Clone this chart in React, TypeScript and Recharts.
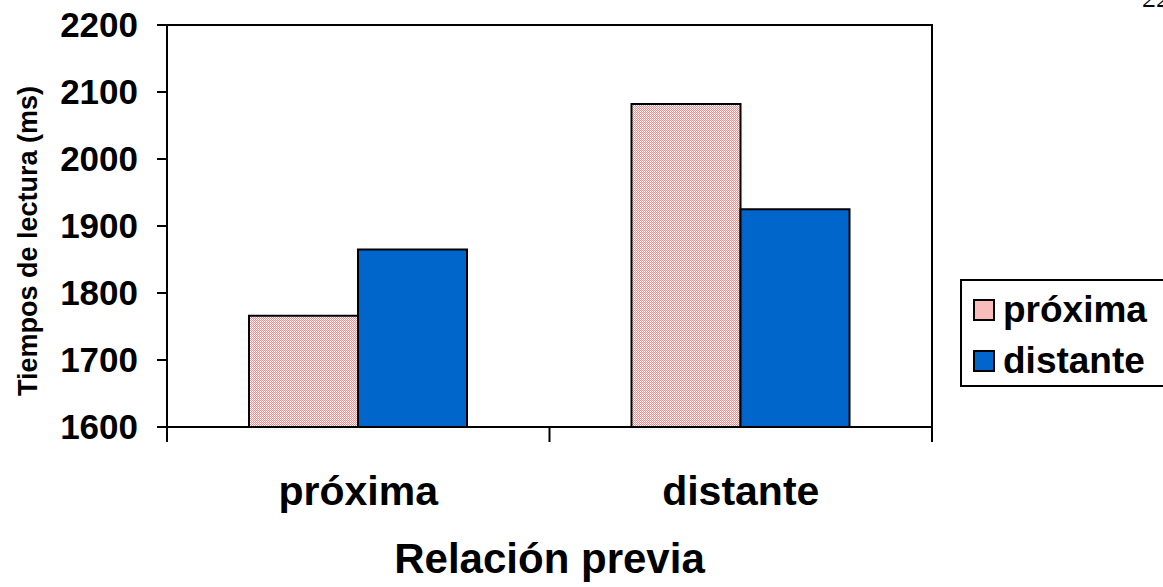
import React from "react"
import { BarChart, Bar, XAxis, YAxis, Legend, ReferenceArea } from "recharts"

const categories = ["próxima", "distante"]
const proximaValues = [1766, 2082]
const distanteValues = [1865, 1925]
const yTicks = [1600, 1700, 1800, 1900, 2000, 2100, 2200]
const seriesOrder = ["proxima", "distante"]

// each category sits in the middle of its own unit on a numeric x axis,
// so integer ticks mark the category boundaries like the original
const data = categories.map((cat, i) => ({
  pos: i + 0.5,
  cat,
  proxima: proximaValues[i],
  distante: distanteValues[i],
}))
const xTicks = [0, ...categories.flatMap((_, i) => [i + 0.5, i + 1])]

const FONT = "'Liberation Sans', Arial, Helvetica, sans-serif"
const BLUE = "#0066cc"
const PINK = "#f58c8c"
const PINK_SWATCH = "#f8bcbc"

function XTick({ x, y, payload }: any) {
  const v = payload.value
  // y already includes the default tick size + margin (8px) below the axis line
  if (Number.isInteger(v)) {
    return <line x1={x} y1={y - 8} x2={x} y2={y + 7} stroke="#000" strokeWidth={2} />
  }
  return (
    <text x={x} y={y + 70} textAnchor="middle" fontSize={41} fontWeight="bold" fontFamily={FONT} fill="#000">
      {categories[Math.floor(v)]}
    </text>
  )
}

function LegendBox({ payload }: any) {
  const items = [...(payload || [])].sort(
    (a: any, b: any) => seriesOrder.indexOf(a.dataKey) - seriesOrder.indexOf(b.dataKey),
  )
  return (
    <div
      style={{
        width: 215,
        height: 108,
        border: "2px solid #000",
        boxSizing: "border-box",
        background: "#fff",
        fontFamily: FONT,
        paddingTop: 3,
      }}
    >
      {items.map((p: any) => (
        <div key={p.dataKey} style={{ display: "flex", alignItems: "center", height: 51 }}>
          <div
            style={{
              flex: "none",
              width: 18,
              height: 18,
              marginLeft: 11,
              marginRight: 8,
              border: "2px solid #000",
              background: p.dataKey === "proxima" ? PINK_SWATCH : BLUE,
            }}
          />
          <span style={{ fontSize: 37, fontWeight: "bold", color: "#000" }}>{p.value}</span>
        </div>
      ))}
    </div>
  )
}

export default function App() {
  return (
    <div style={{ position: "absolute", left: 0, top: 0, width: 1163, height: 587, background: "#fff", overflow: "hidden" }}>
      <svg width={0} height={0} style={{ position: "absolute" }}>
        <defs>
          <pattern id="pinkHatch" patternUnits="userSpaceOnUse" width={2} height={2}>
            <rect width={2} height={2} fill="#fff" />
            <rect x={0} y={0} width={1} height={1} fill={PINK} />
            <rect x={1} y={1} width={1} height={1} fill={PINK} />
          </pattern>
        </defs>
      </svg>
      <svg width={60} height={20} style={{ position: "absolute", left: 1130, top: 0 }}>
        <text x={12} y={7} fontSize={28} fontFamily="'Liberation Serif', 'Times New Roman', serif" fill="#000">22</text>
      </svg>
      <BarChart
        width={1163}
        height={587}
        data={data}
        margin={{ top: 25, right: 231, bottom: 0, left: 0 }}
        barSize={109}
        barGap={0}
      >
        <XAxis
          dataKey="pos"
          type="number"
          domain={[0, categories.length]}
          ticks={xTicks}
          interval={0}
          allowDataOverflow
          height={160}
          axisLine={{ stroke: "#000", strokeWidth: 2 }}
          tickLine={false}
          tick={<XTick />}
          label={{
            content: ({ viewBox }: any) => (
              <text
                x={viewBox.x + viewBox.width / 2}
                y={viewBox.y + 146}
                textAnchor="middle"
                fontSize={42}
                fontWeight="bold"
                fontFamily={FONT}
                fill="#000"
              >
                Relación previa
              </text>
            ),
          }}
        />
        <YAxis
          domain={[1600, 2200]}
          ticks={yTicks}
          interval={0}
          width={167}
          allowDataOverflow
          axisLine={{ stroke: "#000", strokeWidth: 2 }}
          tickLine={{ stroke: "#000", strokeWidth: 2 }}
          tickSize={10}
          tickMargin={19}
          tick={{ fontSize: 35, fontWeight: "bold", fill: "#000", fontFamily: FONT }}
          label={{
            content: ({ viewBox }: any) => {
              const cx = 37
              const cy = viewBox.y + viewBox.height / 2 + 15
              return (
                <text
                  x={cx}
                  y={cy}
                  transform={`rotate(-90 ${cx} ${cy})`}
                  textAnchor="middle"
                  fontSize={27}
                  fontWeight="bold"
                  fontFamily={FONT}
                  fill="#000"
                >
                  Tiempos de lectura (ms)
                </text>
              )
            },
          }}
        />
        <ReferenceArea
          x1={0}
          x2={categories.length}
          y1={1600}
          y2={2200}
          fill="none"
          stroke="#000"
          strokeWidth={2}
          ifOverflow="visible"
        />
        <Bar dataKey="proxima" name="próxima" fill="url(#pinkHatch)" stroke="#000" strokeWidth={2} isAnimationActive={false} />
        <Bar dataKey="distante" name="distante" fill={BLUE} stroke="#000" strokeWidth={2} isAnimationActive={false} />
        <Legend
          layout="horizontal"
          verticalAlign="middle"
          align="center"
          content={<LegendBox />}
          wrapperStyle={{ position: "absolute", left: 960, top: 279, width: 215, height: 108 }}
        />
      </BarChart>
    </div>
  )
}
